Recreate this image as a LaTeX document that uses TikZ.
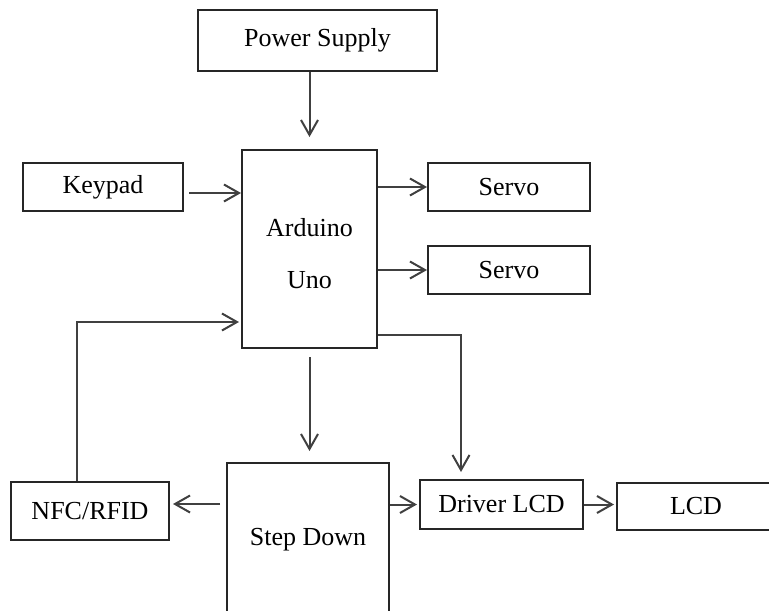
\documentclass[tikz,border=0pt]{standalone}
\usepackage{fontspec}
\setmainfont{Liberation Serif}
\usetikzlibrary{arrows.meta,calc}
\begin{document}
\begin{tikzpicture}[x=0.5pt,y=-0.5pt,
  blk/.style={draw=black!85, line width=1pt, rectangle, inner sep=0pt,
    font=\fontsize{13}{26}\selectfont, align=center, fill=white},
  arr/.style={draw=black!75, line width=1pt, -{Straight Barb[length=7.5pt,width=8.5pt,line width=1pt]}}]
\clip (0,0) rectangle (769,610);
\fill[white] (0,0) rectangle (769,610);
% boxes
\node[blk, minimum width=119.5pt, minimum height=30.5pt] (ps) at (317.5,40.5) {Power Supply};
\node[blk, minimum width=67.5pt, minimum height=99pt,
  label={[font=\fontsize{13}{26}\selectfont, align=center, yshift=-2.5pt]center:Arduino\\Uno}] (ard) at (309.5,249) {};
\node[blk, minimum width=80pt, minimum height=24pt] (key) at (103,187) {Keypad};
\node[blk, minimum width=81pt, minimum height=24pt] (s1) at (509,187) {Servo};
\node[blk, minimum width=81pt, minimum height=24pt] (s2) at (509,270) {Servo};
\node[blk, minimum width=79pt, minimum height=29pt] (nfc) at (90,511) {NFC/RFID};
\node[blk, minimum width=81pt, minimum height=77pt] (sd) at (308,540) {Step Down};
\node[blk, minimum width=81.5pt, minimum height=24.5pt] (drv) at (501.5,504.5) {Driver LCD};
\node[blk, minimum width=79pt, minimum height=23.5pt] (lcd) at (696,506.5) {LCD};
% coordinates
\coordinate (fb) at (77,322);
\coordinate (c1) at (461,335);
\coordinate (sdl) at (227,504);
% connectors
\draw[arr, shorten >=6pt] (ps.south -| ard.north) -- (ard.north);
\draw[arr, shorten <=2.5pt] ($(key.east)+(0,6)$) -- (ard.west |- {$(key.east)+(0,6)$});
\draw[arr] (ard.east |- s1) -- (s1.west);
\draw[arr] (ard.east |- s2) -- (s2.west);
\draw[arr, shorten >=1pt] (nfc.north -| fb) -- (fb) -- (ard.west |- fb);
\draw[arr, shorten <=4pt, shorten >=5.5pt] (ard.south) -- (ard.south |- sd.north);
\draw[arr, shorten <=3pt, shorten >=1.5pt] (sd.west |- sdl) -- (nfc.east |- sdl);
\draw[arr, shorten >=3.5pt] (ard.east |- c1) -- (c1) -- (c1 |- drv.north);
\draw[arr, shorten >=1pt] (sd.east |- drv) -- (drv.west);
\draw[arr, shorten >=1pt] (drv.east) -- (lcd.west |- drv);
\end{tikzpicture}
\end{document}
